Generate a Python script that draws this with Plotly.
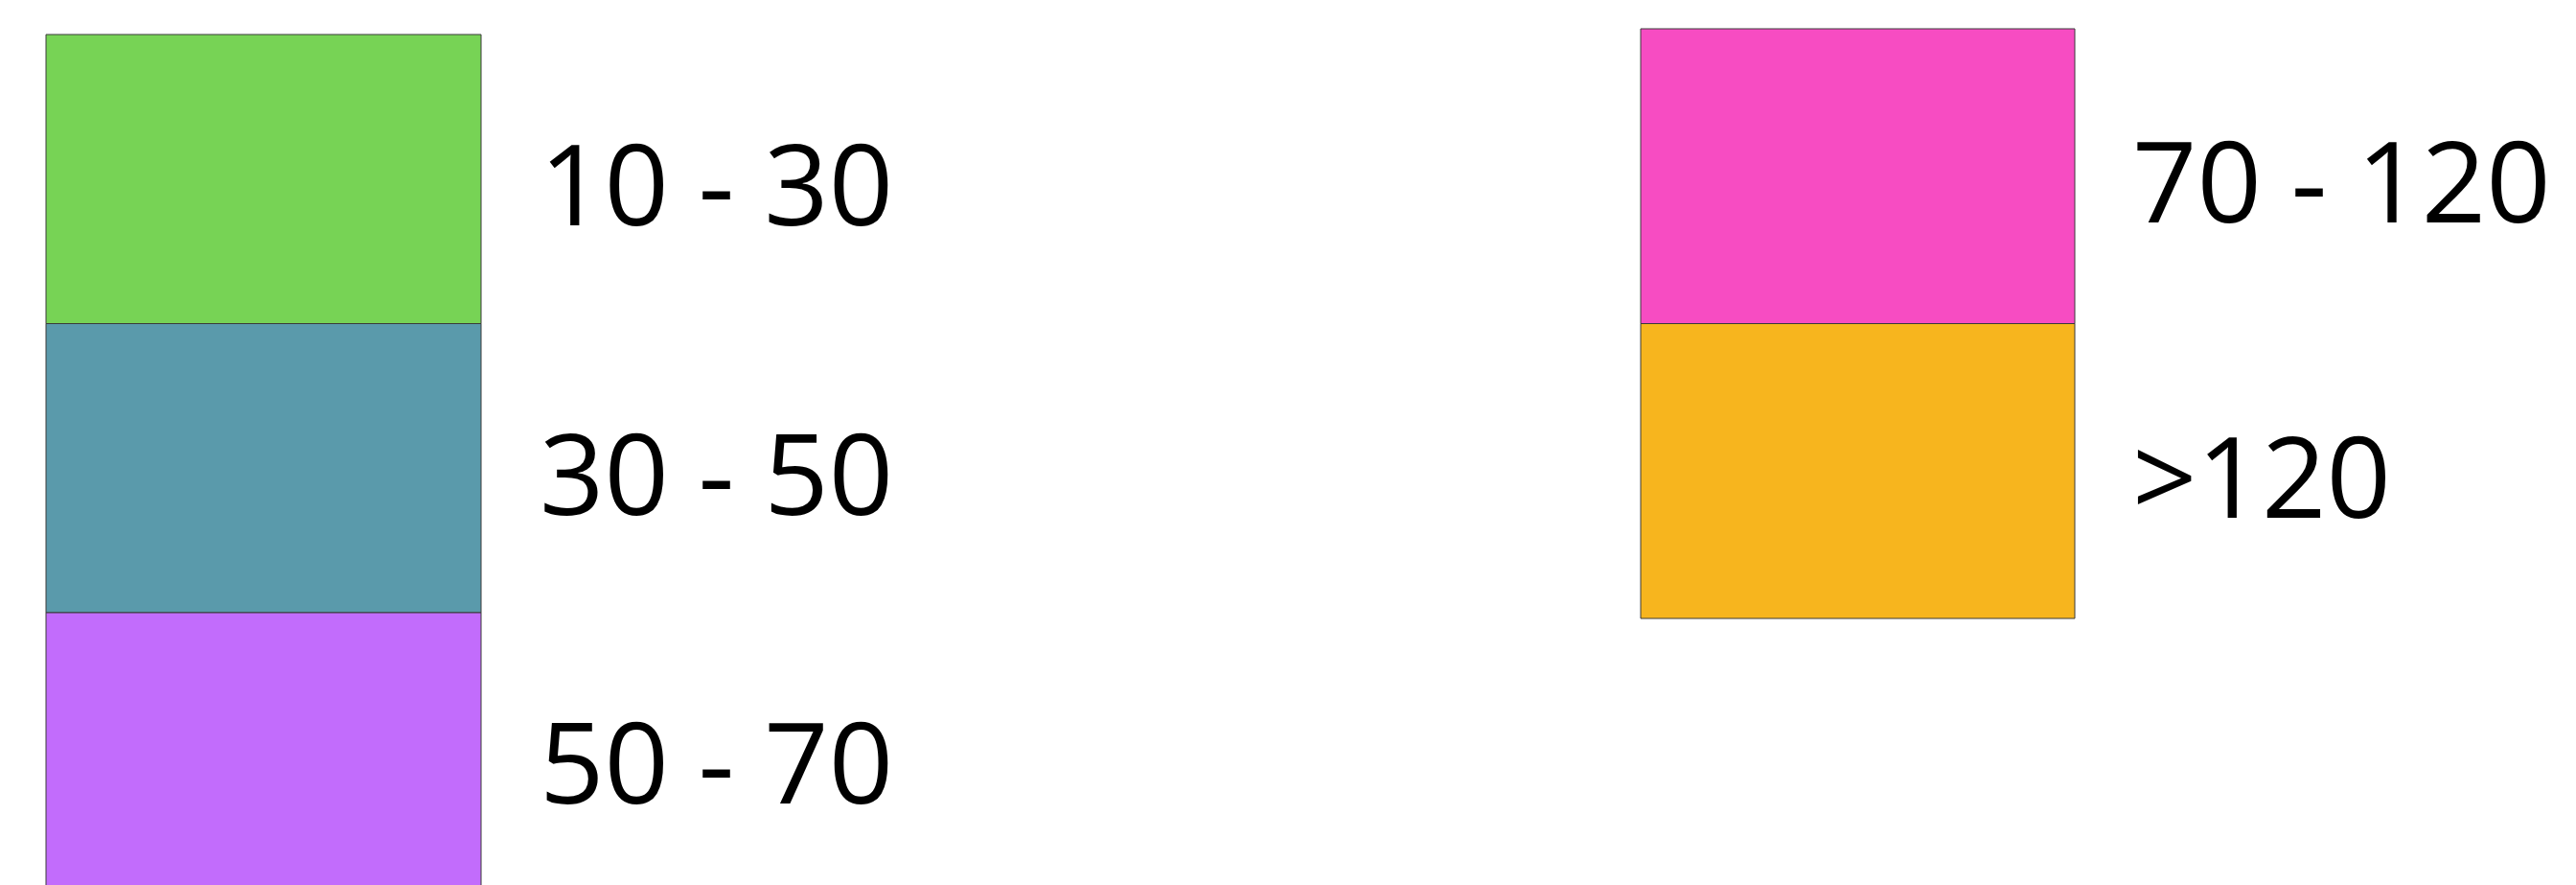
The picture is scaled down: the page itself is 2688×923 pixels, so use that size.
import plotly.graph_objects as go

# Legend data
labels_left = ["10 - 30", "30 - 50", "50 - 70"]
colors_left = ["#77D355", "#5A9AAB", "#C26CFC"]
labels_right = ["70 - 120", ">120"]
colors_right = ["#F74CC2", "#F7B51E"]

W, H = 2688, 923
PAGE_MARGIN = 8  # default browser body margin

# layout (pixels, screen coordinates)
left_x0, left_x1, left_top, left_row = 48, 502, 36, 301.5
right_x0, right_x1, right_top, right_row = 1712, 2165, 30, 307.5
text_left_x, text_right_x = 561, 2223
font_size = 118
edge = "#3a3a3a"

fig = go.Figure()

def add_column(labels, colors, x0, x1, top, row, tx):
    n = len(labels)
    fig.add_trace(go.Bar(
        x=[(x0 + x1) / 2] * n,
        y=[row] * n,
        base=[top + i * row for i in range(n)],
        width=[x1 - x0] * n,
        marker=dict(color=colors, line=dict(color=edge, width=1)),
        showlegend=False, hoverinfo="skip",
    ))
    for i, lab in enumerate(labels):
        fig.add_annotation(
            x=tx, y=top + (i + 0.5) * row + 3, text=lab, showarrow=False,
            xanchor="left", yanchor="middle",
            font=dict(family="Open Sans", size=font_size, color="black"),
        )

add_column(labels_left, colors_left, left_x0, left_x1, left_top, left_row, text_left_x)
add_column(labels_right, colors_right, right_x0, right_x1, right_top, right_row, text_right_x)

fig.update_layout(
    width=W, height=H,
    margin=dict(l=0, r=0, t=0, b=0),
    paper_bgcolor="white", plot_bgcolor="white",
    barmode="overlay",
    xaxis=dict(range=[PAGE_MARGIN, W + PAGE_MARGIN], visible=False, fixedrange=True),
    yaxis=dict(range=[H + PAGE_MARGIN, PAGE_MARGIN], visible=False, fixedrange=True),
)

fig.write_html("out.html")
